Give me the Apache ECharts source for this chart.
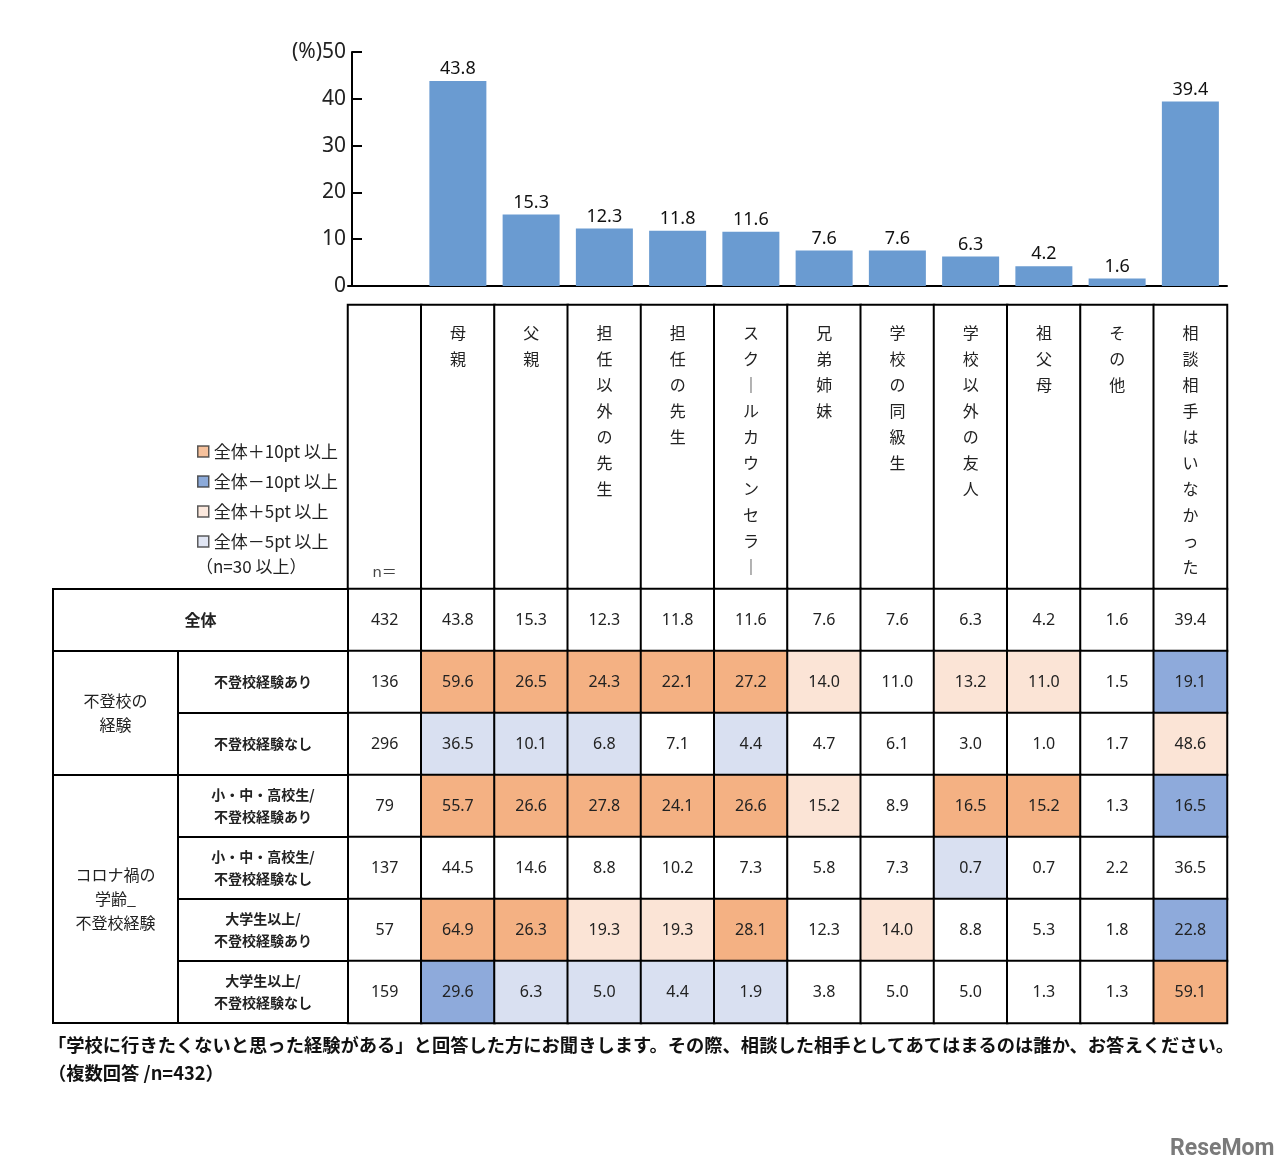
<!DOCTYPE html>
<html><head><meta charset="utf-8">
<script src="https://cdn.jsdelivr.net/npm/echarts@6/dist/echarts.min.js"></script>
<style>html,body{margin:0;padding:0;background:#fff}#c{width:1280px;height:1175px}</style>
</head><body><div id="c"></div>
<script>
// ---- data ----
const categories = ['母親','父親','担任以外の先生','担任の先生','スクールカウンセラー','兄弟姉妹','学校の同級生','学校以外の友人','祖父母','その他','相談相手はいなかった'];
const overall      = [43.8,15.3,12.3,11.8,11.6,7.6,7.6,6.3,4.2,1.6,39.4];
const futokoAri    = [59.6,26.5,24.3,22.1,27.2,14.0,11.0,13.2,11.0,1.5,19.1];
const futokoNashi  = [36.5,10.1,6.8,7.1,4.4,4.7,6.1,3.0,1.0,1.7,48.6];
const shoAri       = [55.7,26.6,27.8,24.1,26.6,15.2,8.9,16.5,15.2,1.3,16.5];
const shoNashi     = [44.5,14.6,8.8,10.2,7.3,5.8,7.3,0.7,0.7,2.2,36.5];
const daiAri       = [64.9,26.3,19.3,19.3,28.1,12.3,14.0,8.8,5.3,1.8,22.8];
const daiNashi     = [29.6,6.3,5.0,4.4,1.9,3.8,5.0,5.0,1.3,1.3,59.1];
const rowValues = [overall, futokoAri, futokoNashi, shoAri, shoNashi, daiAri, daiNashi];
const rowN = [432,136,296,79,137,57,159];
const rowLabels = ['全体','不登校経験あり','不登校経験なし','小・中・高校生/\n不登校経験あり','小・中・高校生/\n不登校経験なし','大学生以上/\n不登校経験あり','大学生以上/\n不登校経験なし'];
const groupLabels = [
  {label:'全体', rows:[0,0], full:true},
  {label:'不登校の\n経験', rows:[1,2]},
  {label:'コロナ禍の\n学齢_\n不登校経験', rows:[3,6]}
];
const nHeader = 'n＝';
const yTicks = {min:0, max:50, interval:10};
const legendNames = ['全体＋10pt 以上','全体－10pt 以上','全体＋5pt 以上','全体－5pt 以上'];

// ---- style ----
const C_DARK_OR = '#f4b183', C_DARK_BL = '#8eaadb', C_LT_OR = '#fbe4d6', C_LT_BL = '#d9e0f1';
const BAR = '#6a9bd1';
const JP = "'Noto Sans CJK JP', sans-serif";
const NUM = "'Noto Sans', 'Noto Sans CJK JP', sans-serif";
const TXT = '#222';

function cellColor(v, base){
  const d = Math.round((v - base) * 10) / 10;
  if (d >= 10) return C_DARK_OR;
  if (d <= -10) return C_DARK_BL;
  if (d >= 5) return C_LT_OR;
  if (d <= -5) return C_LT_BL;
  return '#ffffff';
}
function vertical(s){ return s.split('').map(ch => ch === 'ー' ? '｜' : ch).join('\n'); }

const columns = [nHeader].concat(categories);

// header cells
const headData = columns.map((c, i) => ({
  value: [i, 0, 0],
  label: i === 0 ? {position:'insideBottom', distance:5, fontSize:15, color:'#444', fontFamily:NUM}
                 : {position:'insideTop', distance:16}
}));

// body cells
const bodyData = [];
rowValues.forEach((vals, r) => {
  bodyData.push({value:[0, r, rowN[r]], itemStyle:{color:'#fff'}});
  vals.forEach((v, c) => {
    const color = r === 0 ? '#fff' : cellColor(v, overall[c]);
    bodyData.push({value:[c + 1, r, v], itemStyle:{color}});
  });
});

// side label cells [x0,x1,r0,r1]
const SPLIT = (178 - 53) / 295;
const sideCells = [];
groupLabels.forEach(g => sideCells.push({value:[0, g.full ? 1 : SPLIT, g.rows[0], g.rows[1]], label:g.label, kind: g.full ? 'all' : 'group'}));
rowLabels.forEach((l, r) => { if (r > 0) sideCells.push({value:[SPLIT, 1, r, r], label:l, kind:'sub'}); });

const chart = echarts.init(document.getElementById('c'));
chart.setOption({
  animation: false,
  backgroundColor: '#fff',
  grid: [
    {left:348, right:53, top:52, bottom:1175-286, outerBoundsMode:'none'},
    {left:348, right:53, top:305, height:284, outerBoundsMode:'none'},
    {left:348, right:53, top:589, height:434, outerBoundsMode:'none'},
    {left:53, width:295, top:589, height:434, outerBoundsMode:'none'}
  ],
  xAxis: [
    {type:'category', gridIndex:0, data:[''].concat(categories), axisLine:{lineStyle:{color:'#000', width:2}}, axisTick:{show:false}, axisLabel:{show:false}},
    {type:'category', gridIndex:1, data:columns, show:false},
    {type:'category', gridIndex:2, data:columns, show:false},
    {type:'value', gridIndex:3, min:0, max:1, show:false}
  ],
  yAxis: [
    {type:'value', gridIndex:0, min:yTicks.min, max:yTicks.max, interval:yTicks.interval, offset:-4,
     axisLine:{show:true, lineStyle:{color:'#000', width:2}},
     axisTick:{show:true, inside:true, length:10, lineStyle:{color:'#000', width:2}},
     splitLine:{show:false},
     axisLabel:{fontSize:21, color:TXT, margin:6, fontFamily:NUM, formatter: v => v === yTicks.max ? '(%)' + v : String(v)}},
    {type:'category', gridIndex:1, data:['head'], show:false},
    {type:'category', gridIndex:2, data:rowLabels, inverse:true, show:false},
    {type:'category', gridIndex:3, data:rowLabels, inverse:true, show:false}
  ],
  legend: {
    data: legendNames, orient:'vertical', left:197, top:443, padding:0, icon:'rect', itemWidth:11, itemHeight:11, itemGap:13,
    selectedMode:false, textStyle:{fontSize:17, color:TXT, fontFamily:JP},
    itemStyle:{borderColor:'#333', borderWidth:1.5}
  },
  series: [
    {type:'bar', xAxisIndex:0, yAxisIndex:0, data:['-'].concat(overall), barWidth:57,
     itemStyle:{color:BAR}, label:{show:true, position:'top', distance:3, fontSize:18, color:'#111', fontFamily:NUM},
     emphasis:{disabled:true}},
    {type:'heatmap', xAxisIndex:1, yAxisIndex:1, data:headData,
     itemStyle:{color:'#fff', borderColor:'#000', borderWidth:2},
     label:{show:true, fontSize:16, lineHeight:26, color:TXT, fontFamily:JP,
            formatter: p => p.value[0] === 0 ? nHeader : vertical(columns[p.value[0]])},
     emphasis:{disabled:true}},
    {type:'heatmap', xAxisIndex:2, yAxisIndex:2, data:bodyData,
     itemStyle:{borderColor:'#000', borderWidth:2},
     label:{show:true, fontSize:16, color:TXT, fontFamily:NUM,
            formatter: p => p.value[0] === 0 ? String(p.value[2]) : p.value[2].toFixed(1)},
     emphasis:{disabled:true}},
    {type:'custom', xAxisIndex:3, yAxisIndex:3, data:sideCells, encode:{x:[0,1], y:[2,3]}, clip:false,
     renderItem: function(params, api){
       const x0 = api.value(0), x1 = api.value(1), r0 = api.value(2), r1 = api.value(3);
       const bh = api.size([0, 1])[1];
       const a = api.coord([x0, r0]), b = api.coord([x1, r1]);
       const top = Math.min(a[1], b[1]) - bh / 2, bottom = Math.max(a[1], b[1]) + bh / 2;
       const cell = sideCells[params.dataIndex];
       const isSub = cell.kind === 'sub';
       return {
         type:'rect', shape:{x:a[0], y:top, width:b[0] - a[0], height:bottom - top},
         style:{fill:'#fff', stroke:'#000', lineWidth:2},
         textContent:{style:{text:cell.label, fontFamily:JP, fill:TXT,
           fontSize: isSub ? 14 : 16, fontWeight: (cell.kind === 'all' || isSub) ? 'bold' : 'normal',
           lineHeight: isSub ? 22 : 24, align:'center'}},
         textConfig:{position:'inside'}
       };
     }},
    {type:'scatter', name:legendNames[0], data:[], itemStyle:{color:C_DARK_OR}},
    {type:'scatter', name:legendNames[1], data:[], itemStyle:{color:'#6f95cf'}},
    {type:'scatter', name:legendNames[2], data:[], itemStyle:{color:C_LT_OR}},
    {type:'scatter', name:legendNames[3], data:[], itemStyle:{color:C_LT_BL}}
  ],
  graphic: [
    {type:'text', left:196, top:558, style:{text:'（n=30 以上）', fontSize:17, fill:TXT, fontFamily:JP}},
    {type:'text', left:48, top:1036, style:{text:'「学校に行きたくないと思った経験がある」と回答した方にお聞きします。その際、相談した相手としてあてはまるのは誰か、お答えください。', fontSize:18.3, fontWeight:'bold', fill:'#111', fontFamily:JP}},
    {type:'text', left:48, top:1064, style:{text:'（複数回答 /n=432）', fontSize:18.3, fontWeight:'bold', fill:'#111', fontFamily:JP}},
    {type:'text', left:1170, top:1138, style:{text:'ReseMom', fontSize:23, fontWeight:'bold', fill:'#7a7a7a', fontFamily:"'Roboto', sans-serif"}}
  ]
});
</script></body></html>
